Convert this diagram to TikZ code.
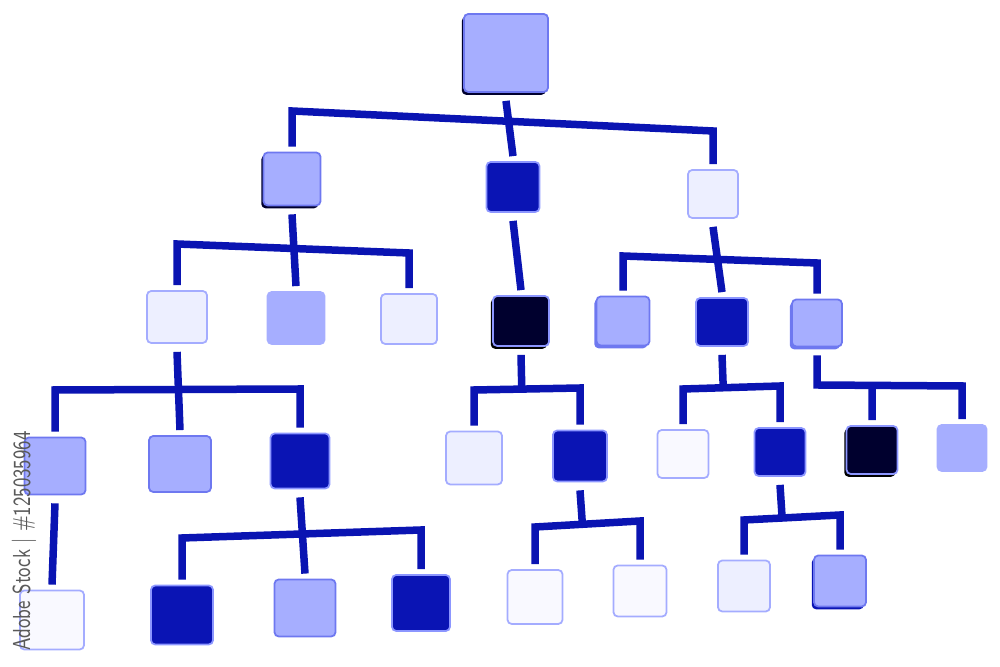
\documentclass[tikz,border=0pt]{standalone}
\usepackage{xcolor}
\usetikzlibrary{calc,shadows}
\definecolor{wire}{HTML}{0A14B2}
\definecolor{lite}{HTML}{A6AEFF}
\definecolor{liteedge}{HTML}{6E78F0}
\definecolor{deep}{HTML}{0A14B4}
\definecolor{deepedge}{HTML}{8C96FF}
\definecolor{night}{HTML}{00002E}
\definecolor{pale}{HTML}{EDEFFF}
\definecolor{paleedge}{HTML}{A4ACFF}
\definecolor{ghost}{HTML}{F9F9FF}
\newcommand{\gapin}{.5mm}
\newcommand{\gapout}{.8mm}
\tikzset{link/.style={line width=.75mm, color=wire}, box/.style={rounded corners=1.2pt, line width=.5pt, inner sep=0pt}, sz/.style 2 args={minimum width=#1mm, minimum height=#2mm}, litebox/.style={box, fill=lite, draw=liteedge}, deepbox/.style={box, fill=deep, draw=deepedge}, nightbox/.style={box, fill=night, draw=deepedge}, palebox/.style={box, fill=pale, draw=paleedge}, ghostbox/.style={box, fill=ghost, draw=paleedge}, ledge/.style={drop shadow={shadow xshift=-.22mm, shadow yshift=-.28mm, fill=#1, opacity=1}}, stamp/.style={rotate=90, font=\sffamily\fontsize{7}{8}\selectfont, text=black!65}}

\begin{document}
\begin{tikzpicture}[x=.1mm, y=-.1mm]
\useasboundingbox (0,0) rectangle (1000,667);
% boxes, row by row
\node[litebox, sz={8.4}{7.8}, ledge=night] (top) at (506,53) {};
\node[litebox, sz={5.7}{5.3}, ledge=night] (a) at (292,179) {};
\node[deepbox, sz={5.3}{5.0}] (b) at (513,187) {};
\node[palebox, sz={5.0}{4.8}] (c) at (713,194) {};
\node[palebox, sz={6.0}{5.2}] (a1) at (177,317) {};
\node[litebox, sz={5.7}{5.2}, draw=lite] (a2) at (296,318) {};
\node[palebox, sz={5.6}{5.0}] (a3) at (409,319) {};
\node[nightbox, sz={5.6}{5.0}, ledge=black] (b1) at (521,321) {};
\node[litebox, sz={5.3}{4.9}, ledge=liteedge] (c1) at (623,321) {};
\node[deepbox, sz={5.2}{4.8}] (c2) at (722,322) {};
\node[litebox, sz={5.0}{4.7}, ledge=liteedge] (c3) at (817,323) {};
\node[litebox, sz={6.1}{5.7}] (a1a) at (55,466) {};
\node[litebox, sz={6.2}{5.6}] (a1b) at (180,464) {};
\node[deepbox, sz={5.9}{5.5}] (a1c) at (300,461) {};
\node[palebox, sz={5.6}{5.3}] (b1a) at (474,458) {};
\node[deepbox, sz={5.4}{5.1}] (b1b) at (580,456) {};
\node[ghostbox, sz={5.1}{4.8}] (c2a) at (683,454) {};
\node[deepbox, sz={5.1}{4.8}] (c2b) at (780,452) {};
\node[nightbox, sz={5.1}{4.8}, ledge=black] (c3a) at (872,450) {};
\node[litebox, sz={4.9}{4.6}, draw=lite] (c3b) at (962,448) {};
\node[ghostbox, sz={6.4}{5.9}] (a1a1) at (52,620) {};
\node[deepbox, sz={6.2}{5.9}] (a1c1) at (182,615) {};
\node[litebox, sz={6.1}{5.7}] (a1c2) at (305,608) {};
\node[deepbox, sz={5.8}{5.6}] (a1c3) at (421,603) {};
\node[ghostbox, sz={5.5}{5.4}] (b1b1) at (535,597) {};
\node[ghostbox, sz={5.3}{5.1}] (b1b2) at (640,591) {};
\node[palebox, sz={5.2}{5.1}] (c2b1) at (744,586) {};
\node[litebox, sz={5.2}{5.1}, ledge=deep] (c2b2) at (840,581) {};
% connectors
\coordinate (top-l) at (a.north |- 0,111); \coordinate (top-r) at (c.north |- 0,131);
\draw[link] ([yshift=\gapin]a.north) -- (top-l) -- (top-r) -- ([yshift=\gapin]c.north);
\draw[link] ([yshift=-\gapout]top.south) -- ([yshift=\gapin]b.north);
\coordinate (a-l) at (a1.north |- 0,244); \coordinate (a-r) at (a3.north |- 0,253);
\draw[link] ([yshift=\gapin]a1.north) -- (a-l) -- (a-r) -- ([yshift=\gapin]a3.north);
\draw[link] ([yshift=-\gapout]a.south) -- ([yshift=\gapin]a2.north);
\draw[link] ([yshift=-\gapout]b.south) -- ([yshift=\gapin]b1.north);
\coordinate (c-l) at (c1.north |- 0,256); \coordinate (c-r) at (c3.north |- 0,263);
\draw[link] ([yshift=\gapin]c1.north) -- (c-l) -- (c-r) -- ([yshift=\gapin]c3.north);
\draw[link] ([yshift=-\gapout]c.south) -- ([yshift=\gapin]c2.north);
\coordinate (a1-l) at (a1a.north |- 0,390); \coordinate (a1-r) at (a1c.north |- 0,389);
\draw[link] ([yshift=\gapin]a1a.north) -- (a1-l) -- (a1-r) -- ([yshift=\gapin]a1c.north);
\draw[link] ([yshift=-\gapout]a1.south) -- ([yshift=\gapin]a1b.north);
\draw[link] ([yshift=-\gapout]a1a.south) -- ([yshift=\gapin]a1a1.north);
\coordinate (a1c-l) at (a1c1.north |- 0,538); \coordinate (a1c-r) at (a1c3.north |- 0,530);
\draw[link] ([yshift=\gapin]a1c1.north) -- (a1c-l) -- (a1c-r) -- ([yshift=\gapin]a1c3.north);
\draw[link] ([yshift=-\gapout]a1c.south) -- ([yshift=\gapin]a1c2.north);
\coordinate (b1-l) at (b1a.north |- 0,390); \coordinate (b1-r) at (b1b.north |- 0,388);
\draw[link] ([yshift=\gapin]b1a.north) -- (b1-l) -- (b1-r) -- ([yshift=\gapin]b1b.north);
\draw[link] ([yshift=-\gapout]b1.south) -- ($(b1-l)!(b1.south)!(b1-r)$);
\coordinate (b1b-l) at (b1b1.north |- 0,527); \coordinate (b1b-r) at (b1b2.north |- 0,521);
\draw[link] ([yshift=\gapin]b1b1.north) -- (b1b-l) -- (b1b-r) -- ([yshift=\gapin]b1b2.north);
\draw[link] ([yshift=-\gapout]b1b.south) -- ($(b1b-l)!(b1b.south)!(b1b-r)$);
\coordinate (c2-l) at (c2a.north |- 0,389); \coordinate (c2-r) at (c2b.north |- 0,386);
\draw[link] ([yshift=\gapin]c2a.north) -- (c2-l) -- (c2-r) -- ([yshift=\gapin]c2b.north);
\draw[link] ([yshift=-\gapout]c2.south) -- ($(c2-l)!(c2.south)!(c2-r)$);
\coordinate (c2b-l) at (c2b1.north |- 0,520); \coordinate (c2b-r) at (c2b2.north |- 0,515);
\draw[link] ([yshift=\gapin]c2b1.north) -- (c2b-l) -- (c2b-r) -- ([yshift=\gapin]c2b2.north);
\draw[link] ([yshift=-\gapout]c2b.south) -- ($(c2b-l)!(c2b.south)!(c2b-r)$);
\coordinate (c3-l) at (c3.south |- 0,385); \coordinate (c3-r) at (c3b.north |- 0,386);
\draw[link] ([yshift=-\gapout]c3.south) -- (c3-l) -- (c3-r) -- ([yshift=\gapin]c3b.north);
\draw[link] ($(c3-l)!(c3a.north)!(c3-r)$) -- ([yshift=\gapin]c3a.north);
% side stamp
\node[stamp] (id) at (24,541) {\scalebox{.72}[1]{Adobe Stock | \#125035964}};
\end{tikzpicture}
\end{document}
